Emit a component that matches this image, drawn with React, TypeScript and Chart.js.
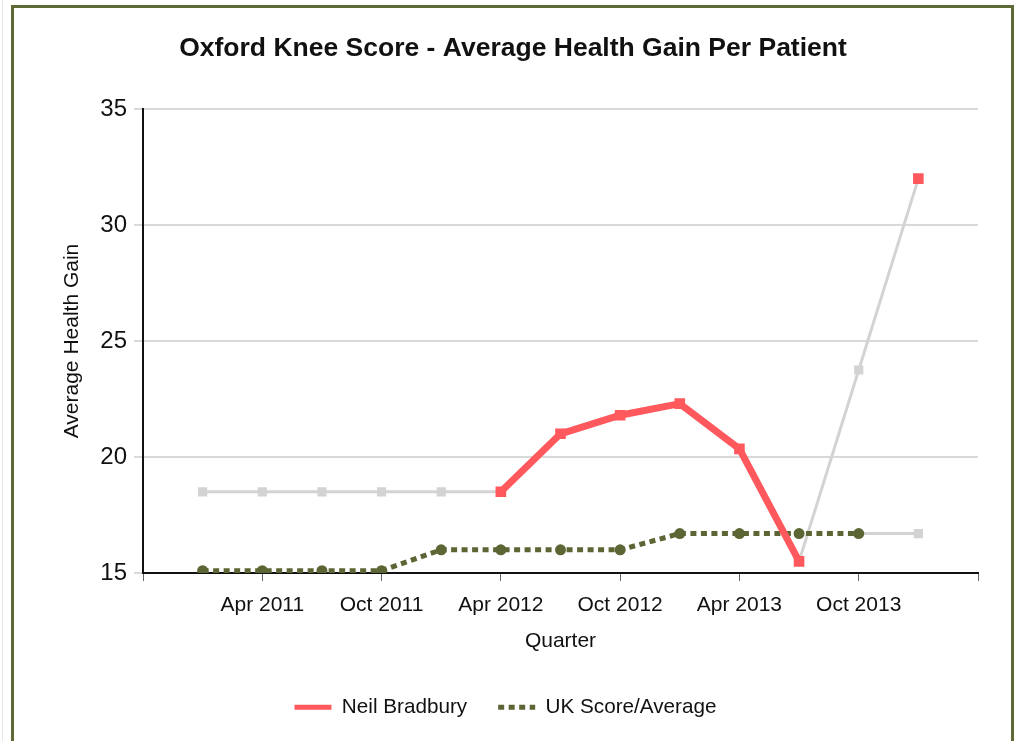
import React, { useEffect, useRef } from 'react';
import { Chart, registerables } from 'chart.js';

Chart.register(...registerables);

// ---- data ----
const quarters = [
  'Oct 2010', 'Jan 2011', 'Apr 2011', 'Jul 2011', 'Oct 2011',
  'Jan 2012', 'Apr 2012', 'Jul 2012', 'Oct 2012', 'Jan 2013',
  'Apr 2013', 'Jul 2013', 'Oct 2013', 'Jan 2014', 'Apr 2014',
];
const labeledQuarters = ['Apr 2011', 'Oct 2011', 'Apr 2012', 'Oct 2012', 'Apr 2013', 'Oct 2013'];
const tickedQuarters = ['Oct 2010', 'Apr 2011', 'Oct 2011', 'Apr 2012', 'Oct 2012', 'Apr 2013', 'Oct 2013', 'Apr 2014'];

const neilBradbury = [null, null, null, null, null, null, 18.5, 21.0, 21.8, 22.3, 20.35, 15.5, null, 32.0, null];
const ukAverage = [null, 15.1, 15.1, 15.1, 15.1, 16.0, 16.0, 16.0, 16.0, 16.7, 16.7, 16.7, 16.7, null, null];
// grey "no data" segments
const neilMissing = [null, 18.5, 18.5, 18.5, 18.5, 18.5, 18.5, null, null, null, null, 15.5, 23.75, 32.0, null];
const ukMissing = [null, null, null, null, null, null, null, null, null, null, null, null, 16.7, 16.7, null];

const yMin = 15;
const yMax = 35;
const yStep = 5;

const RED = '#ff585d';
const OLIVE = '#5b6634';
const GREY = '#d3d3d3';
const FONT = "'Liberation Sans', Arial, sans-serif";

const legendShift = {
  id: 'legendShift',
  afterLayout(chart: any) {
    if (chart.legend) {
      chart.legend.left -= 7.5;
      chart.legend.right -= 7.5;
    }
  },
};

export default function App() {
  const canvasRef = useRef<HTMLCanvasElement | null>(null);

  useEffect(() => {
    const canvas = canvasRef.current;
    if (!canvas) return;
    Chart.defaults.font.family = FONT;
    Chart.defaults.color = '#111';

    const chart = new Chart(canvas, {
      type: 'line',
      data: {
        labels: quarters,
        datasets: [
          {
            label: 'Neil Bradbury',
            data: neilBradbury,
            borderColor: RED,
            backgroundColor: RED,
            borderWidth: 7,
            pointStyle: 'rect',
            pointRadius: 7.5,
            pointBorderWidth: 0,
            pointBackgroundColor: RED,
            tension: 0,
            spanGaps: false,
            order: 0,
          },
          {
            label: 'UK Score/Average',
            data: ukAverage,
            borderColor: OLIVE,
            backgroundColor: OLIVE,
            borderWidth: 5,
            borderDash: [6, 4.5],
            pointStyle: 'circle',
            pointRadius: 5.5,
            pointBorderWidth: 0,
            pointBackgroundColor: OLIVE,
            tension: 0,
            order: 1,
          },
          {
            label: 'missing-neil',
            data: neilMissing,
            borderColor: GREY,
            backgroundColor: GREY,
            borderWidth: 3,
            pointStyle: 'rect',
            pointRadius: 6.5,
            pointBorderWidth: 0,
            pointBackgroundColor: GREY,
            tension: 0,
            spanGaps: false,
            order: 2,
          },
          {
            label: 'missing-uk',
            data: ukMissing,
            borderColor: GREY,
            backgroundColor: GREY,
            borderWidth: 3,
            pointStyle: 'rect',
            pointRadius: ukMissing.map((v, i) => (i === 12 ? 0 : 6.5)),
            pointBorderWidth: 0,
            pointBackgroundColor: GREY,
            tension: 0,
            order: 3,
          },
        ],
      },
      plugins: [legendShift],
      options: {
        responsive: false,
        animation: false,
        devicePixelRatio: 1,
        events: [],
        layout: { padding: { left: 48, right: 36, top: 0, bottom: 13.3 } },
        plugins: {
          tooltip: { enabled: false },
          title: {
            display: true,
            text: 'Oxford Knee Score - Average Health Gain Per Patient',
            font: { size: 26.5, weight: 'bold', family: FONT },
            color: '#111',
            padding: { top: 32.5, bottom: 44.7 },
          },
          legend: {
            display: true,
            position: 'bottom',
            labels: {
              usePointStyle: true,
              pointStyleWidth: 37,
              padding: 31,
              font: { size: 20.7, family: FONT },
              color: '#111',
              generateLabels: (c: any) =>
                c.data.datasets.slice(0, 2).map((ds: any, i: number) => ({
                  text: ds.label,
                  fillStyle: ds.borderColor,
                  strokeStyle: ds.borderColor,
                  lineWidth: 5,
                  lineDash: ds.borderDash || [],
                  pointStyle: 'line',
                  hidden: false,
                  datasetIndex: i,
                  fontColor: '#111',
                })),
            },
          },
        },
        scales: {
          x: {
            type: 'category',
            offset: false,
            afterFit: (s: any) => { s.height = 93; },
            border: { display: true, color: '#111', width: 2 },
            grid: {
              drawOnChartArea: false,
              drawTicks: true,
              tickLength: 8,
              tickWidth: 1,
              tickColor: (ctx: any) =>
                tickedQuarters.includes(quarters[ctx.index]) ? '#666' : 'rgba(0,0,0,0)',
            },
            ticks: {
              autoSkip: false,
              maxRotation: 0,
              padding: 12,
              font: { size: 21, family: FONT },
              color: '#111',
              callback: (_v: any, i: number) =>
                labeledQuarters.includes(quarters[i]) ? quarters[i] : '',
            },
            title: {
              display: true,
              text: 'Quarter',
              font: { size: 21, family: FONT },
              color: '#111',
              padding: { top: 0, bottom: 12 },
            },
          },
          y: {
            min: yMin,
            max: yMax,
            afterFit: (s: any) => { s.width = 95; },
            border: { display: true, color: '#111', width: 2 },
            grid: {
              color: '#d9d9d9',
              lineWidth: 2,
              tickLength: 9,
              drawTicks: true,
            },
            ticks: {
              stepSize: yStep,
              padding: 7,
              font: { size: 24, family: FONT },
              color: '#111',
            },
            title: {
              display: true,
              text: 'Average Health Gain',
              font: { size: 21, family: FONT },
              color: '#111',
              padding: { top: 11.5, bottom: 0 },
            },
          },
        },
      },
    });
    return () => chart.destroy();
  }, []);

  return (
    <div style={{ position: 'fixed', left: 0, top: 0, width: 1014, height: 741, overflow: 'hidden', background: '#fff' }}>
      <div style={{ position: 'absolute', left: 2, top: 0, width: 1, height: 741, background: '#e6e6e6' }} />
      <div
        style={{
          position: 'absolute',
          left: 11,
          top: 5,
          width: 997,
          height: 800,
          border: '3px solid #5d6a35',
          boxSizing: 'content-box',
        }}
      />
      <canvas
        ref={canvasRef}
        width={1014}
        height={741}
        style={{ position: 'absolute', left: 0, top: 0, display: 'block' }}
      />
    </div>
  );
}
